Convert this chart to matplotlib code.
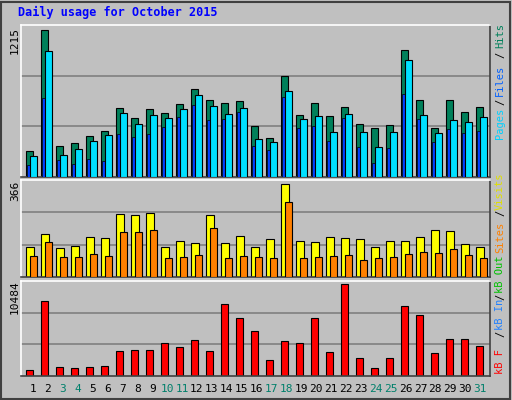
import matplotlib
matplotlib.use("Agg")
import matplotlib.pyplot as plt
import numpy as np

days = [str(d) for d in range(1, 32)]
weekend = [3, 4, 10, 11, 17, 18, 24, 25, 31]
hits = [217,1215,258,283,341,382,572,489,563,530,605,728,638,613,629,423,324,835,514,613,506,580,440,407,431,1050,638,407,638,539,580]
files = [176,1041,184,234,300,349,530,440,514,489,563,679,588,522,572,316,291,712,481,506,374,522,374,250,374,967,514,365,473,456,497]
pages = [102,654,143,110,151,135,357,333,357,415,497,596,473,481,539,258,225,662,407,423,300,489,250,118,242,687,481,291,398,365,382]
visits = [120,168,116,124,156,152,247,243,251,120,140,132,243,132,160,120,148,366,140,136,156,152,148,120,140,140,156,184,180,128,120]
sites = [81,136,77,77,89,81,176,176,184,73,77,85,192,73,81,77,73,295,73,77,81,85,65,73,77,89,100,96,112,85,73]
kbytes = [727,8532,1071,957,1071,1186,2908,3023,3023,3826,3367,4056,2908,8188,6581,5089,1875,3941,3826,6581,2793,10484,2104,957,2104,7958,6925,2678,4170,4170,3482]

W, H = 512, 400
BG = "#c0c0c0"
fig = plt.figure(figsize=(W/100, H/100), dpi=100, facecolor=BG)
x = np.arange(31)

def ax_at(l, t, r, b):
    return fig.add_axes([l/W, 1-b/H, (r-l)/W, (b-t)/H])

def style(ax, top):
    ax.set_facecolor(BG)
    ax.set_xlim(-0.553, 30.72)
    ax.set_ylim(0, top)
    for v in (top/3, 2*top/3):
        ax.axhline(v, color="#808080", lw=1.2, zorder=0)
    ax.set_xticks([]); ax.set_yticks([])
    for s in ax.spines.values():
        s.set_color("white"); s.set_linewidth(1.2)
    ax.spines["bottom"].set_color("#404040")
    ax.spines["right"].set_color("#404040")

ax1 = ax_at(21, 25, 490, 177)
style(ax1, 1253)
ax1.bar(x, hits, 0.49, color="#00805a", edgecolor="black", lw=0.8, zorder=2)
ax1.bar(x-0.05, pages, 0.15, color="#0040ff", edgecolor="black", lw=0.5, zorder=3)
ax1.bar(x+0.27, files, 0.49, color="#00e0ff", edgecolor="black", lw=0.8, zorder=4)

ax2 = ax_at(21, 180, 490, 277)
style(ax2, 382)
ax2.bar(x+0.03, visits, 0.55, color="#ffff00", edgecolor="black", lw=0.8, zorder=2)
ax2.bar(x+0.27, sites, 0.49, color="#ff8000", edgecolor="black", lw=0.8, zorder=3)

ax3 = ax_at(21, 281, 490, 376)
style(ax3, 10850)
ax3.bar(x, kbytes, 0.49, color="#ff0000", edgecolor="black", lw=0.8, zorder=2)

mono = "DejaVu Sans Mono"
for i, d in enumerate(days):
    px = 33 + i*14.9
    c = "#00806b" if (i+1) in weekend else "black"
    fig.text(px/W, 1-389/H, d, ha="center", va="center", fontsize=8, family=mono, color=c)

fig.text(18/W, 1-12/H, "Daily usage for October 2015", ha="left", va="center",
         fontsize=8.5, family=mono, weight="bold", color="#0000ff")

for val, yc in (("1215", 40), ("366", 191), ("10484", 297)):
    fig.text(15/W, 1-yc/H, val, rotation=90, ha="center", va="center", fontsize=8, family=mono)

labels = [("Hits", 36, "#00805a"), ("/", 55, "black"), ("Files", 80, "#0060ff"), ("/", 102, "black"),
          ("Pages", 123, "#00d0ff"),
          ("Visits", 191, "#e0e000"), ("/", 213, "black"), ("Sites", 237, "#ff8000"),
          ("kB Out", 274, "#00c000"), ("/", 297, "black"), ("kB In", 314, "#2080ff"),
          ("/", 334, "black"), ("kB F", 362, "#ff0000")]
for t, yc, c in labels:
    fig.text(500/W, 1-yc/H, t, rotation=90, ha="center", va="center", fontsize=7.5, family=mono, color=c)

fig.add_artist(plt.Rectangle((1/W, 1/H), 1-3/W, 1-3/H, transform=fig.transFigure,
                             fill=False, edgecolor="#404040", lw=1.5))
fig.savefig("out.png", dpi=100, facecolor=BG)
